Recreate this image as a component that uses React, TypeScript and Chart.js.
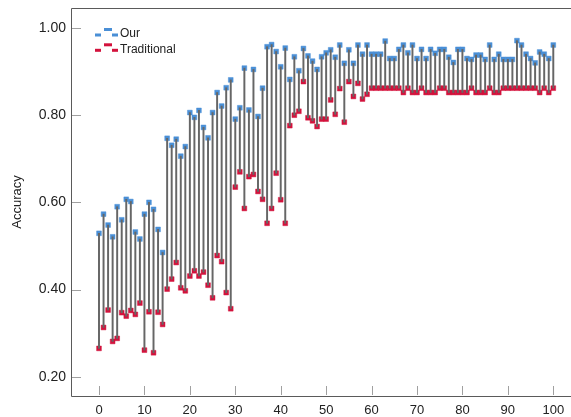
import React, { useEffect, useRef } from "react";
import { Chart, registerables } from "chart.js";

Chart.register(...registerables);

const xValues: number[] = Array.from({ length: 101 }, (_, i) => i);

const ourAcc: number[] = [
  0.529, 0.573, 0.548, 0.521, 0.590, 0.560, 0.607, 0.602, 0.532, 0.516,
  0.573, 0.600, 0.584, 0.538, 0.485, 0.747, 0.731, 0.745, 0.706, 0.728,
  0.806, 0.795, 0.811, 0.772, 0.748, 0.806, 0.852, 0.821, 0.863, 0.881,
  0.791, 0.817, 0.908, 0.812, 0.905, 0.797, 0.862, 0.957, 0.962, 0.946,
  0.911, 0.954, 0.882, 0.934, 0.902, 0.953, 0.936, 0.924, 0.905, 0.934,
  0.943, 0.950, 0.933, 0.961, 0.919, 0.950, 0.919, 0.961, 0.940, 0.961,
  0.940, 0.940, 0.940, 0.970, 0.930, 0.930, 0.951, 0.961, 0.943, 0.961,
  0.930, 0.951, 0.930, 0.951, 0.942, 0.951, 0.951, 0.933, 0.921, 0.951,
  0.951, 0.930, 0.928, 0.938, 0.938, 0.928, 0.961, 0.928, 0.940, 0.928,
  0.928, 0.928, 0.971, 0.961, 0.940, 0.930, 0.920, 0.945, 0.940, 0.930,
  0.961,
];

const tradAcc: number[] = [
  0.265, 0.313, 0.353, 0.281, 0.288, 0.347, 0.339, 0.352, 0.343, 0.369,
  0.261, 0.349, 0.255, 0.348, 0.320, 0.401, 0.424, 0.462, 0.404, 0.397,
  0.431, 0.443, 0.431, 0.440, 0.410, 0.381, 0.478, 0.464, 0.393, 0.356,
  0.635, 0.670, 0.586, 0.659, 0.664, 0.625, 0.607, 0.552, 0.586, 0.667,
  0.606, 0.552, 0.776, 0.800, 0.809, 0.877, 0.794, 0.787, 0.774, 0.791,
  0.791, 0.835, 0.802, 0.861, 0.784, 0.877, 0.843, 0.873, 0.837, 0.848,
  0.862, 0.862, 0.862, 0.862, 0.862, 0.862, 0.862, 0.852, 0.862, 0.852,
  0.852, 0.862, 0.852, 0.852, 0.852, 0.862, 0.862, 0.852, 0.852, 0.852,
  0.852, 0.852, 0.862, 0.852, 0.852, 0.852, 0.862, 0.852, 0.852, 0.862,
  0.862, 0.862, 0.862, 0.862, 0.862, 0.862, 0.862, 0.852, 0.862, 0.852,
  0.862,
];

const seriesNames: string[] = ["Our", "Traditional"];
const xTickValues: number[] = [0, 10, 20, 30, 40, 50, 60, 70, 80, 90, 100];
const yTickValues: number[] = [0.2, 0.4, 0.6, 0.8, 1.0];

const BLUE = "#4a8fd6";
const RED = "#d3123c";
const FONT = "'Liberation Sans', Arial, Helvetica, sans-serif";

const framePlugin = {
  id: "framePlugin",
  afterDraw(chart: any) {
    const { ctx, chartArea } = chart;
    const { left, top, bottom } = chartArea;
    const right = chart.width;
    const xs = chart.scales.x;
    const ys = chart.scales.y;
    ctx.save();
    ctx.strokeStyle = "#a0a0a0";
    ctx.lineWidth = 1;
    ctx.beginPath();
    ys.ticks.forEach((t: any) => {
      const y = Math.round(ys.getPixelForValue(t.value)) + 0.5;
      ctx.moveTo(left + 1, y);
      ctx.lineTo(left + 10, y);
    });
    xs.ticks.forEach((t: any) => {
      const x = Math.round(xs.getPixelForValue(t.value)) + 0.5;
      ctx.moveTo(x, bottom - 1);
      ctx.lineTo(x, bottom - 10);
    });
    ctx.stroke();
    ctx.strokeStyle = "#5a5a5a";
    ctx.beginPath();
    ctx.moveTo(right, top + 0.5);
    ctx.lineTo(left + 0.5, top + 0.5);
    ctx.lineTo(left + 0.5, bottom + 0.5);
    ctx.lineTo(right, bottom + 0.5);
    ctx.stroke();

    // legend
    const items = chart.data.datasets.filter((d: any) => d.type === "scatter");
    items.forEach((d: any, i: number) => {
      const yc = 35 + i * 15.3;
      ctx.fillStyle = d.backgroundColor;
      ctx.fillRect(95, yc - 1.5, 6, 3);
      ctx.fillRect(104, yc - 7, 8, 3);
      ctx.fillRect(112, yc - 1.5, 6, 3);
      ctx.fillStyle = "#222";
      ctx.font = "12px " + FONT;
      ctx.textBaseline = "middle";
      ctx.textAlign = "left";
      ctx.fillText(d.label, 120, yc - 1);
    });
    ctx.restore();
  },
};

export default function App() {
  const ref = useRef<HTMLCanvasElement | null>(null);
  useEffect(() => {
    document.body.style.margin = "0";
    if (!ref.current) return;
    Chart.defaults.font.family = FONT;
    const bars = xValues.map((x, i) => ({ x, y: [tradAcc[i], ourAcc[i]] }));
    const ourPts = xValues.map((x, i) => ({ x, y: ourAcc[i] }));
    const tradPts = xValues.map((x, i) => ({ x, y: tradAcc[i] }));
    const chart = new Chart(ref.current, {
      type: "bar",
      data: {
        datasets: [
          {
            type: "bar",
            label: "diff",
            data: bars as any,
            backgroundColor: "#666666",
            barThickness: 1.3,
            order: 0,
          },
          {
            type: "scatter",
            label: seriesNames[0],
            data: ourPts,
            backgroundColor: BLUE,
            borderColor: "rgba(74,143,214,0.45)",
            borderWidth: 1,
            pointStyle: "rect",
            pointRadius: 3.4,
            order: 1,
          },
          {
            type: "scatter",
            label: seriesNames[1],
            data: tradPts,
            backgroundColor: RED,
            borderColor: "rgba(211,18,60,0.45)",
            borderWidth: 1,
            pointStyle: "rect",
            pointRadius: 3.4,
            order: 1,
          },
        ] as any,
      },
      options: {
        responsive: false,
        animation: false,
        devicePixelRatio: 1,
        layout: { padding: { top: 8, right: 0, left: 0, bottom: 0 } },
        plugins: { legend: { display: false }, tooltip: { enabled: false } },
        scales: {
          x: {
            type: "linear",
            offset: false,
            min: -6.163,
            max: 102.8,
            grid: { display: false, drawTicks: false },
            border: { display: false },
            ticks: {
              padding: 7,
              color: "#222",
              font: { size: 13, family: FONT },
              maxRotation: 0,
              autoSkip: false,
              callback: (v: any) => String(Math.round(Number(v))),
            },
            afterBuildTicks: (s: any) => {
              s.ticks = xTickValues.map((v) => ({ value: v }));
            },
            afterFit: (s: any) => {
              s.height = 21;
              s.paddingLeft = 0;
              s.paddingRight = 0;
            },
          },
          y: {
            type: "linear",
            min: 0.1558,
            max: 1.0459,
            grid: { display: false, drawTicks: false },
            border: { display: false },
            ticks: {
              padding: 5,
              color: "#222",
              font: { size: 14, family: FONT },
              callback: (v: any) => Number(v).toFixed(2),
            },
            afterBuildTicks: (s: any) => {
              s.ticks = yTickValues.map((v) => ({ value: v }));
            },
            title: {
              display: true,
              text: "Accuracy",
              color: "#222",
              font: { size: 13, family: FONT },
              padding: { top: 10, bottom: 0 },
            },
            afterFit: (s: any) => {
              s.width = 71;
              s.paddingTop = 0;
              s.paddingBottom = 0;
            },
          },
        },
      },
      plugins: [framePlugin],
    });
    return () => chart.destroy();
  }, []);
  return (
    <div style={{ width: 571, height: 417 }}>
      <canvas ref={ref} width={571} height={417} />
    </div>
  );
}
